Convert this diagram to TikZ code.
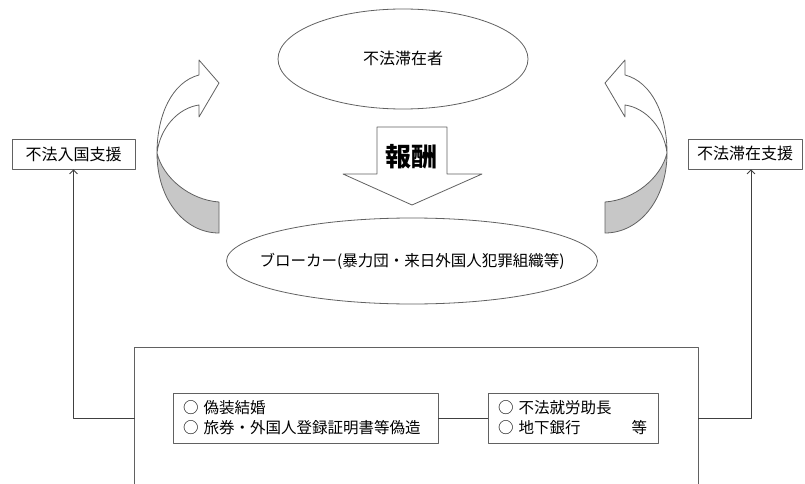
\documentclass[tikz,border=0pt]{standalone}
\usepackage{fontspec}
\setmainfont{Noto Sans CJK JP}
\usetikzlibrary{shapes.geometric,arrows.meta}
\begin{document}
\begin{tikzpicture}[x=1pt,y=-1pt,line join=round,
  shp/.style={draw=black!62,line width=0.8pt},
  ell/.style={shp,ellipse,inner sep=0pt,fill=white},
  box/.style={shp,rectangle,inner sep=0pt,fill=white},
  conn/.style={draw=black!75,line width=0.8pt},
  tipb/.style={-{Straight Barb[length=4pt,width=8pt]}},
  txt/.style={font=\fontsize{16}{20}\selectfont},
  ibox/.style={box,font=\fontsize{15.5}{20}\selectfont,align=left,minimum height=50pt,inner xsep=10pt},
  twist/.style={shp,fill=black!22}]
\useasboundingbox (0,0) rectangle (805,484);

% ellipses
\node[ell,txt,minimum width=250pt,minimum height=100pt] (top) at (403,59) {\makebox[0pt]{不法滞在者}};
\node[ell,minimum width=371pt,minimum height=86pt,font=\fontsize{15.5}{19}\selectfont] (broker) at (412,261) {\makebox[0pt]{ブローカー(暴力団・来日外国人犯罪組織等)}};

% reward arrow
\draw[shp,fill=white] (377,127) -- (447,127) -- (447,174) -- (482,174) -- (412,205) -- (343,174) -- (377,174) -- cycle;
\node[font=\bfseries\fontsize{26}{30}\selectfont] (rew) at (411,157) {報酬};

% left curved arrow
\draw[twist] (157,153) .. controls (163,178) and (190,200) .. (219,202) -- (219,233)
  .. controls (185,233) and (157,200) .. (157,153) -- cycle;
\draw[shp,fill=white] (219,83) -- (199,60) -- (199,75)
  .. controls (172,82) and (157,115) .. (157,153)
  .. controls (160,128) and (178,108) .. (199,105) -- (199,117) -- cycle;

% right curved arrow (mirror about x=412)
\begin{scope}[xshift=824pt,xscale=-1]
\draw[twist] (157,153) .. controls (163,178) and (190,200) .. (219,202) -- (219,233)
  .. controls (185,233) and (157,200) .. (157,153) -- cycle;
\draw[shp,fill=white] (219,83) -- (199,60) -- (199,75)
  .. controls (172,82) and (157,115) .. (157,153)
  .. controls (160,128) and (178,108) .. (199,105) -- (199,117) -- cycle;
\end{scope}

% side boxes
\node[box,txt,minimum width=123pt,minimum height=30pt] (lbox) at (73.5,154) {不法入国支援};
\node[box,txt,minimum width=114pt,minimum height=30pt] (rbox) at (745,154) {不法滞在支援};

% big box
\node[minimum width=563pt,minimum height=150pt,inner sep=0pt] (big) at (416.5,423) {};
\draw[shp] (big.south west) -- (big.north west) -- (big.north east) -- (big.south east);

% inner boxes
\node[ibox,text width=245pt] (box1) at (305.5,418)
  {○ 偽装結婚\\\mbox{○ 旅券・外国人登録証明書等偽造}};
\node[ibox,text width=150pt] (box2) at (573,418)
  {○ 不法就労助長\\\makebox[150pt][l]{○ 地下銀行\hfill 等\hspace*{1pt}}};

% connectors
\draw[conn] (box1.east) -- (box2.west);
\draw[conn,tipb] (big.west |- box1.east) -| (lbox.south);
\draw[conn,tipb] (big.east |- box2.east) -| ([xshift=6pt]rbox.south);
\end{tikzpicture}
\end{document}
